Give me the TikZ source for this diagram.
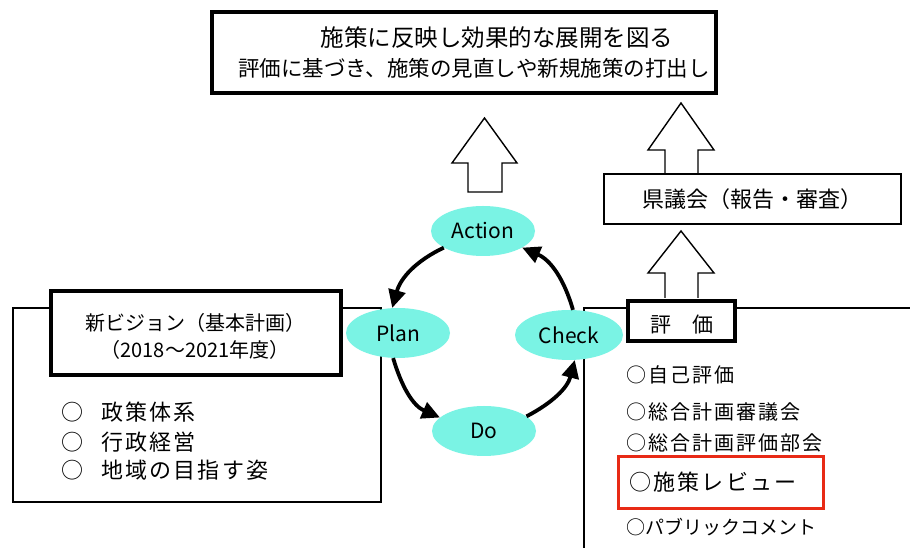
\documentclass[tikz,border=0pt]{standalone}
\usepackage{fontspec}
\setmainfont{Noto Sans CJK JP}
\newfontfamily\jpsp[LetterSpace=10]{Noto Sans CJK JP}
\usetikzlibrary{shapes.geometric,arrows.meta}
\definecolor{pdcafill}{RGB}{122,243,228}
\definecolor{markred}{RGB}{232,42,22}
\begin{document}
\begin{tikzpicture}[x=1pt,y=1pt,
  thickbox/.style={draw,line width=4.5pt,fill=white,inner sep=0pt},
  thinbox/.style={draw,line width=1.8pt,fill=white,inner sep=0pt},
  panel/.style={draw,line width=1.8pt},
  pdca/.style={ellipse,fill=pdcafill,inner sep=0pt,minimum width=104pt,minimum height=50pt,font=\fontsize{21}{21}\selectfont},
  cyc/.style={line width=3.8pt,-{Triangle[length=18pt,width=17pt]}},
  hollow/.style={draw,line width=1.4pt,fill=white,line join=miter},
  txt/.style={inner sep=0pt},
  ]
\useasboundingbox (0,0) rectangle (910,548);
\fill[white] (0,0) rectangle (910,548);

% panels
\draw[panel] (13,240) rectangle (381,46);
\draw[panel] (910,240) -- (584,240) -- (584,0);

% hollow block arrows
\draw[hollow] (468,356) -- (468,385) -- (452,385) -- (484.5,430) -- (517,385) -- (502,385) -- (502,356) -- cycle;
\draw[hollow] (665,375) -- (665,398) -- (648,398) -- (681,445) -- (714,398) -- (698,398) -- (698,375);
\draw[hollow] (665,250) -- (665,275) -- (648,275) -- (681,317) -- (714,275) -- (698,275) -- (698,250);

% top goal box
\node[thickbox,minimum width=504pt,minimum height=81pt] (goal) at (464,495.5) {};
\node[txt,font=\fontsize{23.5}{23.5}\selectfont] (goal1) at (497,510) {施策に反映し効果的な展開を図る};
\node[txt,font=\fontsize{21.5}{21.5}\selectfont] (goal2) at (474,480) {評価に基づき、施策の見直しや新規施策の打出し};

% prefectural assembly
\node[thinbox,minimum width=297pt,minimum height=50pt,font=\fontsize{22}{22}\selectfont] (gikai) at (752.5,349) {県議会（報告・審査）};

% vision box
\node[thickbox,minimum width=290pt,minimum height=84pt] (vision) at (196,215) {};
\node[txt,align=center,font=\fontsize{20}{27}\selectfont] (visiontxt) at (195,211.5) {新ビジョン（基本計画）\\（2018～2021年度）};

% left list
\node[txt,anchor=west,font=\jpsp\fontsize{22}{22}\selectfont] (l1) at (61,136) {○\hspace{18pt}政策体系};
\node[txt,anchor=west,font=\jpsp\fontsize{22}{22}\selectfont] (l2) at (61,106) {○\hspace{18pt}行政経営};
\node[txt,anchor=west,font=\jpsp\fontsize{22}{22}\selectfont] (l3) at (61,78) {○\hspace{18pt}地域の目指す姿};

% PDCA ellipses
\node[pdca] (action) at (483,317) {Action};
\node[pdca] (plan) at (398,215) {Plan};
\node[pdca,minimum width=108pt] (check) at (569,213) {Check};
\node[pdca] (do) at (484,117) {Do};

\draw[cyc] (action.203) to[out=205.5,in=74.5] (plan.103);
\draw[cyc] (plan.259) to[out=286.5,in=156.4] (do.163);
\draw[cyc] (do.19) to[out=27.6,in=255.4] (check.283);
\draw[cyc] (check.81) to[out=106.1,in=336.5] (action.337);

% evaluation box
\node[thickbox,minimum width=107pt,minimum height=40pt] (hyoka) at (681.5,227) {};
\node[txt,font=\fontsize{21}{21}\selectfont] (hyokatxt) at (681.5,223) {評　価};

% right list
\node[txt,anchor=west,font=\jpsp\fontsize{20}{20}\selectfont] (r1) at (626,173) {○自己評価};
\node[txt,anchor=west,font=\jpsp\fontsize{20}{20}\selectfont] (r2) at (626,136) {○総合計画審議会};
\node[txt,anchor=west,font=\jpsp\fontsize{20}{20}\selectfont] (r3) at (626,105) {○総合計画評価部会};
\node[txt,anchor=west,font=\jpsp\fontsize{22}{22}\selectfont] (r4) at (629,66) {○施策レビュー};
\node[txt,anchor=west,font=\fontsize{19}{19}\selectfont] (r5) at (626,21) {○パブリックコメント};

% red highlight
\node[draw=markred,line width=3pt,minimum width=205pt,minimum height=52pt] (mark) at (721,65.5) {};
\end{tikzpicture}
\end{document}
